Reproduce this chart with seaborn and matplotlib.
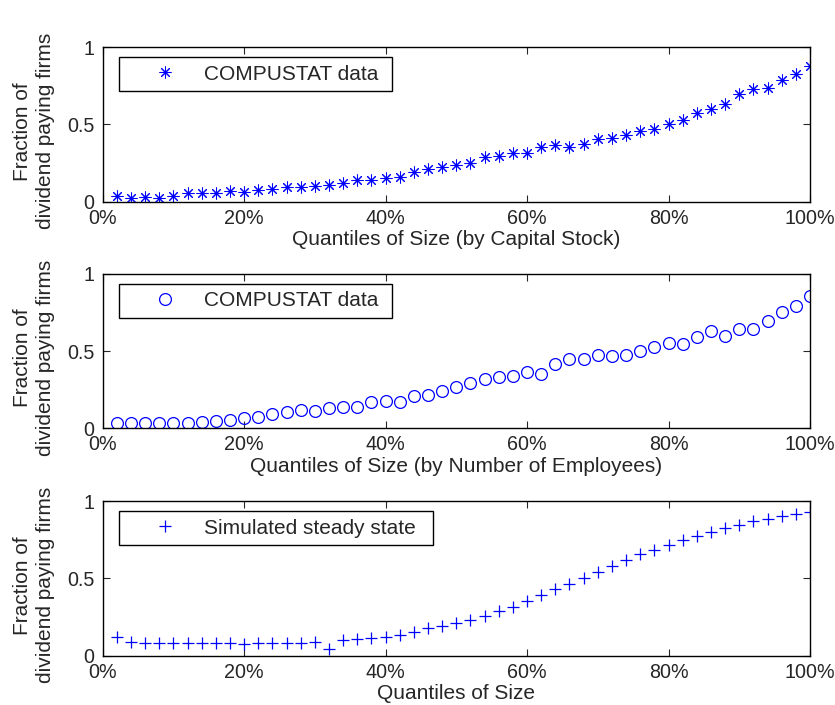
import numpy as np
import pandas as pd
import matplotlib
matplotlib.use("Agg")
import matplotlib.pyplot as plt
import seaborn as sns

quantiles = list(range(2, 101, 2))

capital_stock = [0.039, 0.022, 0.032, 0.022, 0.039, 0.054, 0.054, 0.054, 0.069, 0.060,
                 0.075, 0.082, 0.097, 0.097, 0.101, 0.108, 0.118, 0.140, 0.140, 0.151,
                 0.161, 0.194, 0.209, 0.222, 0.237, 0.252, 0.290, 0.297, 0.318, 0.312,
                 0.351, 0.366, 0.355, 0.372, 0.404, 0.415, 0.434, 0.458, 0.473, 0.505,
                 0.527, 0.574, 0.602, 0.634, 0.699, 0.727, 0.738, 0.791, 0.828, 0.877]

employees = [0.032, 0.037, 0.032, 0.032, 0.037, 0.032, 0.039, 0.050, 0.054, 0.065,
             0.071, 0.093, 0.108, 0.119, 0.114, 0.130, 0.140, 0.136, 0.168, 0.177,
             0.173, 0.212, 0.216, 0.244, 0.270, 0.292, 0.320, 0.330, 0.339, 0.367,
             0.352, 0.417, 0.449, 0.449, 0.475, 0.469, 0.475, 0.503, 0.529, 0.551,
             0.546, 0.590, 0.631, 0.600, 0.644, 0.641, 0.695, 0.752, 0.793, 0.857]

simulated = [0.119, 0.091, 0.080, 0.080, 0.080, 0.080, 0.080, 0.080, 0.080, 0.076,
             0.080, 0.084, 0.084, 0.084, 0.091, 0.041, 0.102, 0.108, 0.117, 0.123,
             0.134, 0.156, 0.177, 0.193, 0.214, 0.232, 0.260, 0.290, 0.318, 0.357,
             0.394, 0.431, 0.465, 0.502, 0.545, 0.582, 0.617, 0.660, 0.686, 0.719,
             0.751, 0.777, 0.801, 0.827, 0.848, 0.870, 0.885, 0.903, 0.918, 0.929]

xlabels = ["Quantiles of Size (by Capital Stock)",
           "Quantiles of Size (by Number of Employees)",
           "Quantiles of Size"]
legend_labels = ["COMPUSTAT data", "COMPUSTAT data", "Simulated steady state"]
ylabel = "Fraction of\ndividend paying firms"
xticks = [0, 20, 40, 60, 80, 100]
xticklabels = ["0%", "20%", "40%", "60%", "80%", "100%"]
yticks = [0, 0.5, 1]
yticklabels = ["0", "0.5", "1"]

sns.set_style("ticks")
plt.rcParams['font.family'] = ['Liberation Sans', 'DejaVu Sans']
FS = 15
TFS = 14.2
plt.rcParams['font.size'] = FS

fig = plt.figure(figsize=(8.35, 7.05), dpi=100)
left, width = 0.123, 0.847
bottoms = [0.714, 0.3925, 0.070]
height = 0.219
legend_widths = [0.386, 0.386, 0.444]

series = [capital_stock, employees, simulated]
markers = [(8, 2, 0), "o", "+"]
msizes = [8.5, 8.5, 9]
mews = [0.75, 0.9, 0.9]
blue = "#0000ff"

for i in range(3):
    ax = fig.add_axes([left, bottoms[i], width, height])
    df = pd.DataFrame({"q": quantiles, "v": series[i]})
    kw = dict(marker=markers[i], markersize=msizes[i], linestyle="none",
              color=blue, markeredgecolor=blue, markeredgewidth=mews[i],
              label=legend_labels[i])
    if markers[i] == "o":
        kw["markerfacecolor"] = "none"
    sns.lineplot(data=df, x="q", y="v", ax=ax, **kw)
    ax.set_xlim(0, 100)
    ax.set_ylim(0, 1)
    ax.set_xticks(xticks)
    ax.set_xticklabels(xticklabels)
    ax.set_yticks(yticks)
    ax.set_yticklabels(yticklabels)
    ax.tick_params(direction="in", top=True, right=True, length=5, width=0.8,
                   labelsize=TFS)
    ax.tick_params(axis="x", pad=5)
    ax.tick_params(axis="y", pad=6)
    for s in ax.spines.values():
        s.set_linewidth(1.0)
        s.set_color("black")
    ax.set_xlabel(xlabels[i], fontsize=FS, labelpad=2)
    ax.set_ylabel(ylabel, fontsize=FS, linespacing=1.3)
    ax.yaxis.set_label_coords(-0.067, 0.456)
    leg = ax.legend(loc="upper left", bbox_to_anchor=(0.023, 0.935, legend_widths[i], 0.0),
                    mode="expand", frameon=True,
                    fancybox=False, edgecolor="black", framealpha=1,
                    handlelength=3.7, handletextpad=0.05, borderpad=0.35,
                    borderaxespad=0, fontsize=FS)
    leg.get_frame().set_linewidth(1.0)

fig.savefig("out.png", dpi=100)
